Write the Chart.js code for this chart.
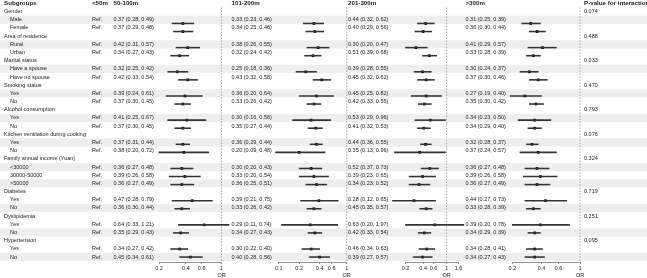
<!DOCTYPE html>
<html>
<head>
<meta charset="utf-8">
<script src="https://cdn.jsdelivr.net/npm/chart.js@4"></script>
<style>
  html, body { margin: 0; padding: 0; background: #fff; }
  #wrap { position: relative; width: 647px; height: 278px; overflow: hidden; }
  #wrap canvas { position: absolute; top: 0; }
</style>
</head>
<body>
<div id="wrap">
  <canvas id="base" width="647" height="278" style="left:0"></canvas>
  <canvas id="p1"></canvas>
  <canvas id="p2"></canvas>
  <canvas id="p3"></canvas>
  <canvas id="p4"></canvas>
</div>
<script>
// ---- data ----
const rowLabels = [
  'Gender', 'Male', 'Female',
  'Area of residence', 'Rural', 'Urban',
  'Marital status', 'Have a spouse', 'Have no spouse',
  'Smoking status', 'Yes', 'No',
  'Alcohol consumption', 'Yes', 'No',
  'Kitchen ventilation during cooking', 'Yes', 'No',
  'Family annual income (Yuan)', '<30000', '30000-50000', '>50000',
  'Diabetes', 'Yes', 'No',
  'Dyslipidemia', 'Yes', 'No',
  'Hypertension', 'Yes', 'No'
];
const groupRows = [0, 3, 6, 9, 12, 15, 18, 22, 25, 28];
const pValues = ['0.074', '0.488', '0.033', '0.470', '0.793', '0.076', '0.324', '0.719', '0.251', '0.095'];
const headers = ['Subgroups', '<50m', '50-100m', '101-200m', '201-300m', '>300m', 'P-value for interaction'];

// 50-100m
const or50 = [0.37, 0.37, 0.42, 0.34, 0.32, 0.42, 0.39, 0.37, 0.41, 0.37, 0.37, 0.38, 0.36, 0.39, 0.36, 0.47, 0.36, 0.64, 0.35, 0.34, 0.45];
const lo50 = [0.28, 0.29, 0.31, 0.27, 0.25, 0.33, 0.24, 0.30, 0.25, 0.30, 0.31, 0.20, 0.27, 0.26, 0.27, 0.28, 0.30, 0.33, 0.29, 0.27, 0.34];
const hi50 = [0.49, 0.48, 0.57, 0.43, 0.42, 0.54, 0.61, 0.45, 0.67, 0.45, 0.44, 0.72, 0.48, 0.58, 0.49, 0.79, 0.44, 1.21, 0.43, 0.42, 0.61];
// 101-200m
const or100 = [0.33, 0.34, 0.38, 0.32, 0.25, 0.43, 0.36, 0.33, 0.30, 0.35, 0.36, 0.20, 0.30, 0.33, 0.36, 0.39, 0.33, 0.29, 0.34, 0.30, 0.40];
const lo100 = [0.23, 0.25, 0.26, 0.24, 0.18, 0.32, 0.20, 0.26, 0.16, 0.27, 0.29, 0.09, 0.20, 0.20, 0.25, 0.21, 0.26, 0.11, 0.27, 0.22, 0.28];
const hi100 = [0.46, 0.46, 0.55, 0.42, 0.36, 0.58, 0.64, 0.42, 0.58, 0.44, 0.44, 0.48, 0.43, 0.54, 0.51, 0.75, 0.42, 0.74, 0.43, 0.40, 0.56];
// 201-300m
const or200 = [0.44, 0.40, 0.30, 0.51, 0.39, 0.45, 0.45, 0.42, 0.53, 0.41, 0.44, 0.35, 0.52, 0.39, 0.34, 0.28, 0.45, 0.63, 0.42, 0.46, 0.39];
const lo200 = [0.32, 0.29, 0.20, 0.39, 0.28, 0.32, 0.25, 0.33, 0.29, 0.32, 0.36, 0.13, 0.37, 0.23, 0.23, 0.12, 0.35, 0.20, 0.33, 0.34, 0.27];
const hi200 = [0.62, 0.56, 0.47, 0.68, 0.55, 0.62, 0.82, 0.55, 0.96, 0.53, 0.55, 0.96, 0.73, 0.65, 0.52, 0.65, 0.57, 1.97, 0.54, 0.63, 0.57];
// >300m
const or300 = [0.31, 0.36, 0.41, 0.33, 0.30, 0.37, 0.27, 0.35, 0.34, 0.34, 0.32, 0.37, 0.36, 0.39, 0.36, 0.44, 0.33, 0.39, 0.34, 0.34, 0.34];
const lo300 = [0.25, 0.30, 0.29, 0.28, 0.24, 0.30, 0.19, 0.30, 0.23, 0.29, 0.28, 0.24, 0.27, 0.26, 0.27, 0.27, 0.28, 0.20, 0.29, 0.28, 0.27];
const hi300 = [0.39, 0.44, 0.57, 0.39, 0.37, 0.46, 0.40, 0.42, 0.50, 0.40, 0.37, 0.57, 0.48, 0.58, 0.49, 0.73, 0.39, 0.78, 0.39, 0.41, 0.43];

const ticks50 = [0.2, 0.4, 0.6, 1];
const ticks100 = [0.1, 0.2, 0.4, 0.6, 1];
const ticks200 = [0.2, 0.4, 0.6, 1, 1.6];
const ticks300 = [0.2, 0.4, 0.6, 1];

// ---- layout ----
const W = 647, H = 278;
const ROW0 = 11.6, PITCH = 8.18, AXIS_Y = 262;
const FONT = 'Arial, "Liberation Sans", sans-serif';
const TXT = '#222';
const subRows = rowLabels.map((_, i) => i).filter(i => !groupRows.includes(i));
const fmt = (o, l, h) => o.toFixed(2) + ' (' + l.toFixed(2) + ', ' + h.toFixed(2) + ')';

const panels = [
  { id: 'p1', or: or50, lo: lo50, hi: hi50, ticks: ticks50, px0: 159, px1: 221.5, textX: 113.5 },
  { id: 'p2', or: or100, lo: lo100, hi: hi100, ticks: ticks100, px0: 278.7, px1: 346.7, textX: 231.5 },
  { id: 'p3', or: or200, lo: lo200, hi: hi200, ticks: ticks200, px0: 405.5, px1: 458.5, textX: 348 },
  { id: 'p4', or: or300, lo: lo300, hi: hi300, ticks: ticks300, px0: 512.3, px1: 580, textX: 465.5 }
];
const headerX = [4, 92, 113.5, 231.5, 348, 465.5, 584];

// table: stripes + text, drawn on a base chart whose y scale holds the rows
const tablePlugin = {
  id: 'table',
  beforeDraw(chart) {
    const ctx = chart.ctx, y = chart.scales.y;
    ctx.save();
    ctx.fillStyle = '#fff';
    ctx.fillRect(0, 0, W, H);
    ctx.fillStyle = '#eeeeee';
    // zebra runs over the subgroup rows only
    subRows.forEach((r, k) => {
      if (k % 2 === 0) {
        const yc = y.getPixelForValue(r);
        ctx.fillRect(0, yc - PITCH / 2, W, PITCH);
      }
    });
    ctx.restore();
  },
  afterDraw(chart) {
    const ctx = chart.ctx, y = chart.scales.y;
    ctx.save();
    ctx.fillStyle = TXT;
    ctx.textBaseline = 'middle';
    ctx.textAlign = 'left';
    ctx.font = 'bold 6.2px ' + FONT;
    const yh = y.getPixelForValue(-1);
    headers.forEach((h, k) => ctx.fillText(h, headerX[k], yh));
    ctx.font = '5.5px ' + FONT;
    rowLabels.forEach((lab, i) => {
      const yc = y.getPixelForValue(i);
      if (groupRows.includes(i)) {
        ctx.fillText(lab, 4, yc);
        ctx.fillText(pValues[groupRows.indexOf(i)], 584, yc);
      } else {
        ctx.fillText(lab, 10, yc);
        ctx.fillText('Ref.', 92, yc);
      }
    });
    panels.forEach(p => {
      subRows.forEach((r, k) => {
        ctx.fillText(fmt(p.or[k], p.lo[k], p.hi[k]), p.textX, y.getPixelForValue(r));
      });
    });
    ctx.restore();
  }
};

new Chart(document.getElementById('base'), {
  type: 'scatter',
  data: { datasets: [] },
  options: {
    responsive: false,
    animation: false,
    events: [],
    layout: { padding: 0 },
    plugins: { legend: { display: false }, tooltip: { enabled: false } },
    scales: {
      x: { display: false, min: 0, max: 1 },
      y: { display: false, reverse: true, min: -ROW0 / PITCH, max: (H - ROW0) / PITCH }
    }
  },
  plugins: [tablePlugin]
});

// reference line at OR = 1 and the "OR" label
const refPlugin = {
  id: 'refline',
  beforeDatasetsDraw(chart) {
    const ctx = chart.ctx, x = chart.scales.x.getPixelForValue(1);
    ctx.save();
    ctx.strokeStyle = '#777';
    ctx.lineWidth = 0.6;
    ctx.setLineDash([1.5, 1.5]);
    ctx.beginPath();
    ctx.moveTo(x, 7.5);
    ctx.lineTo(x, AXIS_Y);
    ctx.stroke();
    ctx.restore();
  },
  afterDraw(chart) {
    const ctx = chart.ctx, x = chart.scales.x.getPixelForValue(1);
    ctx.save();
    ctx.fillStyle = TXT;
    ctx.font = '5.5px ' + FONT;
    ctx.textAlign = 'center';
    ctx.textBaseline = 'middle';
    ctx.fillText('OR', x, 275);
    ctx.restore();
  }
};

const PAD = 16;
panels.forEach(p => {
  const canvas = document.getElementById(p.id);
  const left = Math.floor(p.px0) - PAD;
  const width = Math.ceil(p.px1) + PAD - left;
  canvas.width = width;
  canvas.height = H;
  canvas.style.left = left + 'px';
  new Chart(canvas, {
    type: 'scatter',
    data: {
      datasets: [
        {
          type: 'bar',
          indexAxis: 'y',
          data: subRows.map((r, k) => ({ x: [p.lo[k], p.hi[k]], y: r })),
          backgroundColor: '#333',
          borderWidth: 0,
          barThickness: 0.9,
          clip: false
        },
        {
          type: 'scatter',
          data: subRows.map((r, k) => ({ x: p.or[k], y: r })),
          pointStyle: 'rect',
          pointRadius: 1.9,
          backgroundColor: '#000',
          borderWidth: 0,
          clip: false
        }
      ]
    },
    options: {
      responsive: false,
      animation: false,
      events: [],
      layout: { padding: { left: p.px0 - left, right: left + width - p.px1, top: 0, bottom: 0 } },
      plugins: { legend: { display: false }, tooltip: { enabled: false } },
      scales: {
        x: {
          type: 'logarithmic',
          min: p.ticks[0],
          max: p.ticks[p.ticks.length - 1],
          offset: false,
          afterBuildTicks: s => { s.ticks = p.ticks.map(v => ({ value: v })); },
          afterFit: s => { s.height = H - AXIS_Y; },
          ticks: {
            autoSkip: false, maxRotation: 0, padding: 1,
            color: TXT, font: { size: 5.5, family: FONT },
            callback: v => String(v)
          },
          grid: { drawOnChartArea: false, drawTicks: true, tickLength: 2, color: '#444', lineWidth: 0.6 },
          border: { display: true, color: '#444', width: 0.6 }
        },
        y: {
          type: 'linear', display: false, reverse: true, offset: false,
          min: -ROW0 / PITCH, max: (AXIS_Y - ROW0) / PITCH
        }
      }
    },
    plugins: [refPlugin]
  });
});
</script>
</body>
</html>
